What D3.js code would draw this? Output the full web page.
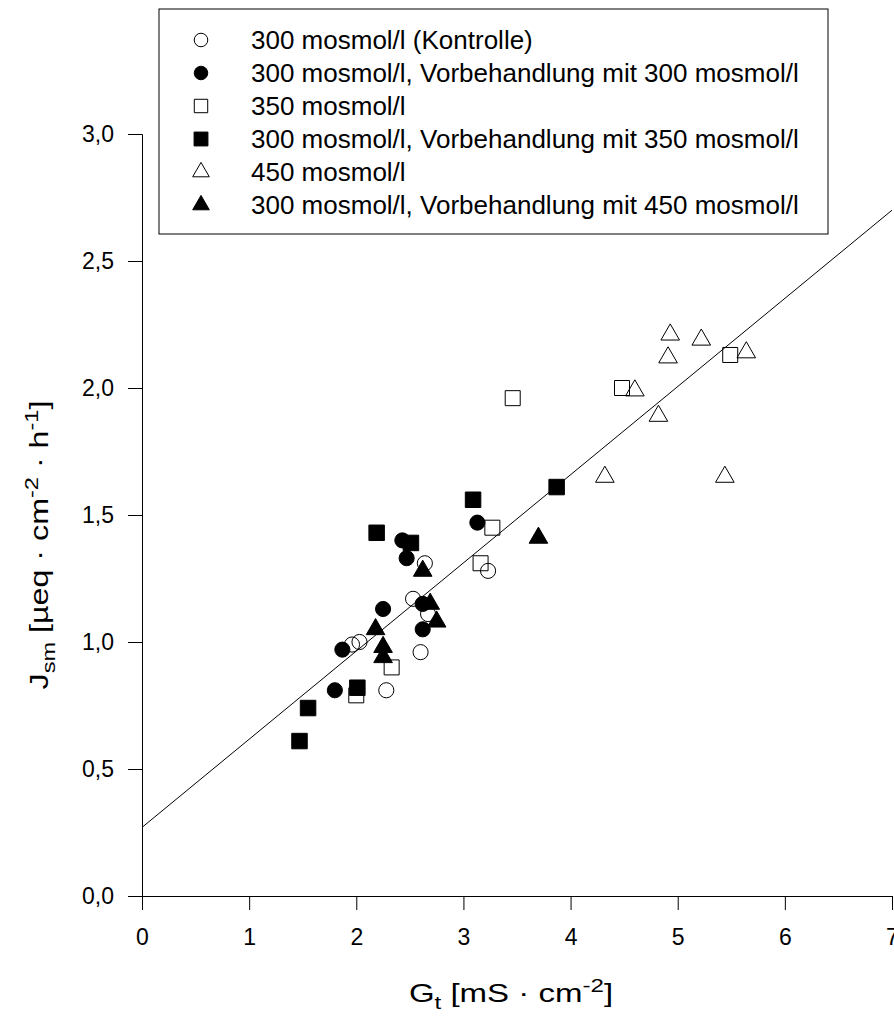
<!DOCTYPE html>
<html>
<head>
<meta charset="utf-8">
<script src="https://cdn.jsdelivr.net/npm/d3@7"></script>
<style>
  body { margin: 0; background: #fff; }
  svg text { font-family: "Liberation Sans", Arial, sans-serif; fill: #000; }
</style>
</head>
<body>
<div id="graf"></div>
<script>
//// DATOS
const serieNombres = [
  '300 mosmol/l (Kontrolle)',
  '300 mosmol/l, Vorbehandlung mit 300 mosmol/l',
  '350 mosmol/l',
  '300 mosmol/l, Vorbehandlung mit 350 mosmol/l',
  '450 mosmol/l',
  '300 mosmol/l, Vorbehandlung mit 450 mosmol/l'
]

const kontrolleX = [1.96, 2.03, 2.28, 2.60, 2.53, 2.64, 2.67, 3.23]
const kontrolleY = [0.99, 1.00, 0.81, 0.96, 1.17, 1.31, 1.11, 1.28]

const vor300X = [1.87, 1.80, 2.25, 2.43, 2.47, 2.62, 2.62, 3.13]
const vor300Y = [0.97, 0.81, 1.13, 1.40, 1.33, 1.15, 1.05, 1.47]

const m350X = [2.33, 2.00, 3.16, 3.27, 3.46, 4.48, 5.49]
const m350Y = [0.90, 0.79, 1.31, 1.45, 1.96, 2.00, 2.13]

const vor350X = [2.19, 2.51, 2.01, 1.55, 1.47, 3.09, 3.87]
const vor350Y = [1.43, 1.39, 0.82, 0.74, 0.61, 1.56, 1.61]

const m450X = [4.93, 5.22, 4.91, 5.64, 4.60, 4.82, 4.32, 5.44]
const m450Y = [2.21, 2.19, 2.12, 2.14, 1.99, 1.89, 1.65, 1.65]

const vor450X = [2.62, 2.18, 2.25, 2.25, 2.69, 2.75, 3.70]
const vor450Y = [1.28, 1.05, 0.98, 0.94, 1.15, 1.08, 1.41]

// Regressionsgerade: Endpunkte
const lineaX = [0, 7]
const lineaY = [0.27, 2.70]

const xTicks = [0, 1, 2, 3, 4, 5, 6, 7]
const yTicks = [0, 0.5, 1.0, 1.5, 2.0, 2.5, 3.0]

//// TAMAÑOS
const ancho_total = 894
const alto_total = 1019
const margins = { top: 134, left: 142, right: 2, bottom: 123 }
const ancho = ancho_total - margins.left - margins.right
const alto = alto_total - margins.top - margins.bottom

const svg = d3.select('#graf').append('svg')
  .attr('width', ancho_total)
  .attr('height', alto_total)

const g = svg.append('g')
  .attr('transform', `translate(${margins.left}, ${margins.top})`)

//// ESCALAS
const x = d3.scaleLinear().domain([0, 7]).range([0, ancho])
const y = d3.scaleLinear().domain([0, 3]).range([alto, 0])

const fmt = d => d3.format('.1f')(d).replace('.', ',')

//// EJES
const xAxis = g.append('g')
  .attr('transform', `translate(0, ${alto})`)
  .call(d3.axisBottom(x).tickValues(xTicks).tickFormat(d3.format('d')).tickSizeOuter(0).tickSize(14).tickPadding(19))
const yAxis = g.append('g')
  .call(d3.axisLeft(y).tickValues(yTicks).tickFormat(fmt).tickSizeOuter(0).tickSize(14).tickPadding(14))

svg.selectAll('.domain').attr('stroke', '#000').attr('stroke-width', 1)
svg.selectAll('.tick line').attr('stroke', '#000').attr('stroke-width', 1)
svg.selectAll('.tick text').attr('font-size', 23).attr('font-family', '"Liberation Sans", Arial, sans-serif')

//// LINEA
const lineGen = d3.line().x(d => x(d[0])).y(d => y(d[1]))
g.append('path')
  .attr('d', lineGen(d3.zip(lineaX, lineaY)))
  .attr('fill', 'none')
  .attr('stroke', '#000')
  .attr('stroke-width', 1)

//// PUNTOS
const series = [
  { xs: kontrolleX, ys: kontrolleY, tipo: d3.symbolCircle, lleno: false, size: 180 },
  { xs: vor300X, ys: vor300Y, tipo: d3.symbolCircle, lleno: true, size: 180 },
  { xs: m350X, ys: m350Y, tipo: d3.symbolSquare, lleno: false, size: 225 },
  { xs: vor350X, ys: vor350Y, tipo: d3.symbolSquare, lleno: true, size: 240 },
  { xs: m450X, ys: m450Y, tipo: d3.symbolTriangle, lleno: false, size: 150 },
  { xs: vor450X, ys: vor450Y, tipo: d3.symbolTriangle, lleno: true, size: 150 }
]

series.forEach(s => {
  g.append('g').selectAll('path')
    .data(d3.zip(s.xs, s.ys))
    .join('path')
    .attr('transform', d => `translate(${x(d[0])}, ${y(d[1])})`)
    .attr('d', d3.symbol().type(s.tipo).size(s.size))
    .attr('fill', s.lleno ? '#000' : 'none')
    .attr('stroke', '#000')
    .attr('stroke-width', 1)
})

//// LEYENDA
const leyenda = svg.append('g').attr('transform', 'translate(159, 9)')
leyenda.append('rect')
  .attr('width', 669)
  .attr('height', 225)
  .attr('fill', '#fff')
  .attr('stroke', '#000')
  .attr('stroke-width', 1)

series.forEach((s, i) => {
  const fila = leyenda.append('g').attr('transform', `translate(42, ${31 + i * 33})`)
  fila.append('path')
    .attr('d', d3.symbol().type(s.tipo).size(s.size * 0.8))
    .attr('fill', s.lleno ? '#000' : 'none')
    .attr('stroke', '#000')
  fila.append('text')
    .attr('x', 50)
    .attr('dy', '0.36em')
    .attr('font-size', 26)
    .text(serieNombres[i])
})

//// TITULOS DE EJES (algo ensanchados, como en el original)
const xt = svg.append('text')
  .attr('transform', 'translate(511, 1002) scale(1.27, 1)')
  .attr('text-anchor', 'middle')
  .attr('font-size', 26)
xt.append('tspan').text('G')
xt.append('tspan').attr('dy', 7).attr('font-size', 19).text('t')
xt.append('tspan').attr('dy', -7).text(' [mS · cm')
xt.append('tspan').attr('dy', -10).attr('font-size', 19).text('-2')
xt.append('tspan').attr('dy', 10).text(']')

const yt = svg.append('text')
  .attr('transform', 'translate(48, 545) rotate(-90) scale(1.24, 1)')
  .attr('text-anchor', 'middle')
  .attr('font-size', 26)
yt.append('tspan').text('J')
yt.append('tspan').attr('dy', 7).attr('font-size', 19).text('sm')
yt.append('tspan').attr('dy', -7).text(' [µeq · cm')
yt.append('tspan').attr('dy', -10).attr('font-size', 19).text('-2')
yt.append('tspan').attr('dy', 10).text(' · h')
yt.append('tspan').attr('dy', -10).attr('font-size', 19).text('-1')
yt.append('tspan').attr('dy', 10).text(']')
</script>
</body>
</html>
